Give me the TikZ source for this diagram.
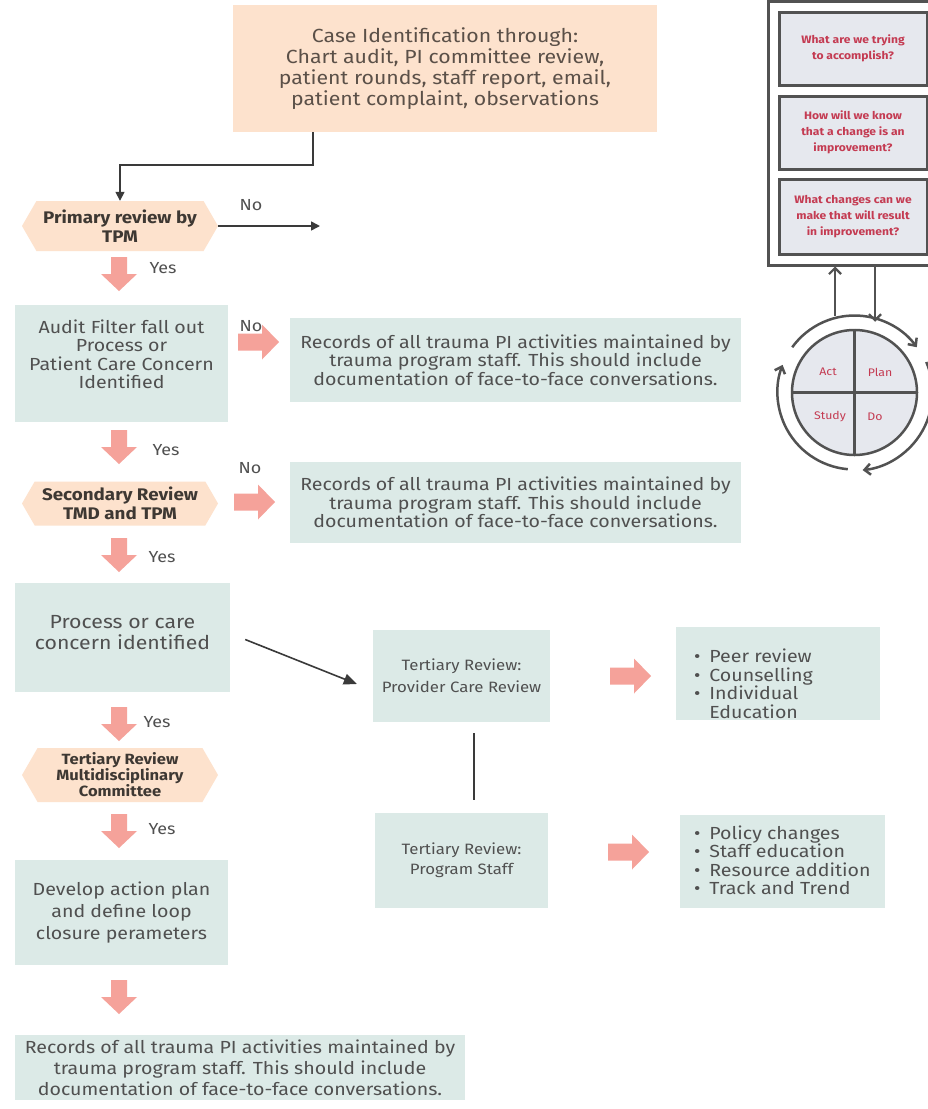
\documentclass[tikz,border=0pt]{standalone}
\usepackage{fontspec}
\setmainfont[FakeStretch=1.12]{Fira Sans}
\usetikzlibrary{shapes.symbols,arrows.meta,calc}
\definecolor{peach}{HTML}{FDE2CD}
\definecolor{tealbox}{HTML}{DCEAE7}
\definecolor{pinkarr}{HTML}{F5A29A}
\definecolor{bodytext}{HTML}{505050}
\definecolor{toptext}{HTML}{5B5048}
\definecolor{hextext}{HTML}{3E3833}
\definecolor{conncol}{HTML}{3A3A3A}
\definecolor{pdsagray}{HTML}{525252}
\definecolor{pdsafill}{HTML}{E6E8EE}
\definecolor{pdsared}{HTML}{C43B52}
\tikzset{
  fs/.style 2 args={font=\fontsize{#1}{#2}\selectfont},
  hfs/.style 2 args={font=\bfseries\fontsize{#1}{#2}\selectfont},
  box/.style={fill=tealbox, text=bodytext, align=center, inner sep=0pt},
  boxtext/.style={text=bodytext, align=center, inner sep=0pt},
  topbox/.style={fill=peach, text=toptext, align=center, inner sep=0pt},
  hexa/.style={signal, signal to=east and west, signal pointer angle=120,
    fill=peach, text=hextext, align=center, inner sep=0pt, minimum width=196},
  bullbox/.style={fill=tealbox, inner sep=0pt},
  bulltext/.style={text=bodytext, align=left, inner sep=0pt, anchor=west, fs={17.5}{18.5}},
  lbl/.style={text=bodytext, inner sep=0pt, fs={16}{18}},
  conn/.style={draw=conncol, line width=1.6pt, -{Triangle[length=9pt,width=9pt]}},
  pframe/.style={draw=pdsagray, line width=3pt, fill=white},
  qbox/.style={draw=pdsagray, line width=3pt, fill=pdsafill, text=pdsared,
    align=center, inner sep=0pt, minimum width=148, font=\bfseries\fontsize{10.8}{16}\selectfont},
  plabel/.style={text=pdsared, inner sep=0pt, fs={11}{13}},
  cyc/.style={draw=pdsagray, line width=2.5pt, -{Straight Barb[length=6pt,width=11pt]}},
  pdsaarr/.style={draw=pdsagray, line width=2.2pt, -{Straight Barb[length=6pt,width=12pt]}},
  pdown/.pic={\fill[pinkarr] (-8,0) -- (8,0) -- (8,17) -- (18,17) -- (0,34) -- (-18,17) -- (-8,17) -- cycle;},
  pright/.pic={\fill[pinkarr] (0,-8.5) -- (24,-8.5) -- (24,-17.5) -- (41,0) -- (24,17.5) -- (24,8.5) -- (0,8.5) -- cycle;}
}
\newcommand{\bul}{\textbullet\hspace{9pt}}
\newcommand{\nobul}{\hphantom{\textbullet}\hspace{9pt}}
\begin{document}
\begin{tikzpicture}[x=1pt,y=-1pt]
\useasboundingbox (0,0) rectangle (928,1109);
\fill[white] (0,0) rectangle (928,1109);

% ---------- main flow ----------
\node[topbox, minimum width=424, minimum height=127, fs={19}{21}] (top) at (445,68.5)
  {Case Identification through:\\Chart audit, PI committee review,\\patient rounds, staff report, email,\\patient complaint, observations};

\node[hexa, minimum height=50, hfs={16.8}{19.5}] (hex1) at (120,226) {Primary review by\\TPM};
\draw[conn] ($(top.south)+(-132,0)$) -- ++(0,33) -| (hex1.north);
\coordinate (noend) at (320,226);
\draw[conn] (hex1.east) -- (noend);
\node[lbl] (no1) at (251,205) {No};
\pic at (119,257) {pdown};
\node[lbl] (yes1) at (163,268) {Yes};

\node[box, minimum width=213, minimum height=117] (audit) at (121.5,363.5) {};
\node[boxtext, fs={17.5}{18.5}] (audittext) at (121.5,354.5)
  {Audit Filter fall out\\Process or\\Patient Care Concern\\Identified};
\node[lbl] (no2) at (251,326) {No};
\pic at (238,342) {pright};
\node[box, minimum width=451, minimum height=84, fs={17.5}{18.5}] (rec1) at (515.5,360)
  {Records of all trauma PI activities maintained by\\trauma program staff. This should include\\documentation of face-to-face conversations.};

\pic at (119,430) {pdown};
\node[lbl] (yes2) at (166,450) {Yes};

\node[hexa, minimum height=44, hfs={16.8}{19.5}] (hex2) at (120,503.5) {Secondary Review\\TMD and TPM};
\node[lbl] (no3) at (250,468) {No};
\pic at (234,502) {pright};
\node[box, minimum width=451, minimum height=81, fs={17.5}{18.5}] (rec2) at (515.5,502.5)
  {Records of all trauma PI activities maintained by\\trauma program staff. This should include\\documentation of face-to-face conversations.};

\pic at (119,538) {pdown};
\node[lbl] (yes3) at (162,557) {Yes};

\node[box, minimum width=215, minimum height=109] (process) at (122.5,637.5) {};
\node[boxtext, fs={19}{21}] (processtext) at (122.5,632.5) {Process or care\\concern identified};
\node[box, minimum width=177, minimum height=92, fs={15}{22}] (provider) at (461.5,676)
  {Tertiary Review:\\Provider Care Review};
\draw[conn, -{Triangle[length=13pt,width=11pt]}] ($(process.east)+(15,2)$) -- ($(provider.west)+(-16,8)$);
\pic at (610,676) {pright};
\node[bullbox, minimum width=204, minimum height=93] (bul1) at (778,673.5) {};
\node[bulltext] (bul1text) at ($(bul1.west)+(18,10.5)$)
  {\bul Peer review\\\bul Counselling\\\bul Individual\\\nobul Education};

\node[box, minimum width=173, minimum height=95, fs={15}{20}] (staff) at (461.5,860.5)
  {Tertiary Review:\\Program Staff};
\draw[draw=conncol, line width=1.6pt] ($(provider.south)+(12.5,11)$) -- ($(staff.north)+(12.5,-13)$);
\pic at (608,852) {pright};
\node[bullbox, minimum width=205, minimum height=93] (bul2) at (782.5,861.5) {};
\node[bulltext] (bul2text) at ($(bul2.west)+(14,-1)$)
  {\bul Policy changes\\\bul Staff education\\\bul Resource addition\\\bul Track and Trend};

\pic at (119,707) {pdown};
\node[lbl] (yes4) at (157,722) {Yes};
\node[hexa, minimum height=54, hfs={14.8}{16}] (hex3) at (120,775) {Tertiary Review\\Multidisciplinary\\Committee};
\pic at (119,814) {pdown};
\node[lbl] (yes5) at (162,829) {Yes};

\node[box, minimum width=213, minimum height=105, fs={17.5}{22}] (develop) at (121.5,912.5)
  {Develop action plan\\and define loop\\closure perameters};
\pic at (119,980) {pdown};
\node[box, minimum width=450, minimum height=65, fs={17.5}{21}] (rec3) at (240,1067.5)
  {Records of all trauma PI activities maintained by\\trauma program staff. This should include\\documentation of face-to-face conversations.};

% ---------- PDSA ----------
\node[pframe, minimum width=168, minimum height=264, inner sep=0pt] (frame) at (852,133) {};
\node[qbox, minimum height=73] (q1) at (853,48.5) {What are we trying\\to accomplish?};
\node[qbox, minimum height=73] (q2) at (853,132.5) {How will we know\\that a change is an\\improvement?};
\node[qbox, minimum height=75] (q3) at (853,216.5) {What changes can we\\make that will result\\in improvement?};

\node[circle, draw=pdsagray, line width=2.5pt, fill=pdsafill, minimum size=125, inner sep=0pt] (pdsa) at (854.5,392.5) {};
\draw[draw=pdsagray, line width=2.5pt] (pdsa.north) -- (pdsa.south);
\draw[draw=pdsagray, line width=2.5pt] (pdsa.west) -- (pdsa.east);
\node[plabel] (act) at (828,372) {Act};
\node[plabel] (plan) at (880,372) {Plan};
\node[plabel] (study) at (830,417) {Study};
\node[plabel] (do) at (875,417) {Do};

\draw[cyc] ($(pdsa.center)+(-144:77)$) arc[start angle=-144, end angle=-36, radius=77];
\draw[cyc] ($(pdsa.center)+(-23:78)$) arc[start angle=-23, end angle=84, radius=78];
\draw[cyc] ($(pdsa.center)+(95:77)$) arc[start angle=95, end angle=201, radius=77];

\coordinate (upstart) at ($(pdsa.north)+(-19.5,-13)$);
\draw[pdsaarr] (upstart) -- (upstart |- frame.south);
\coordinate (downend) at ($(pdsa.north)+(20.5,-7)$);
\draw[pdsaarr] (downend |- frame.south) -- (downend);
\end{tikzpicture}
\end{document}
